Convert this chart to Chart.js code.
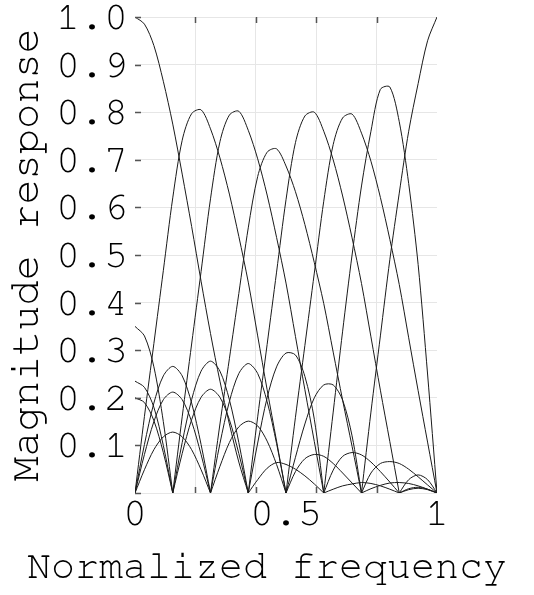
<!DOCTYPE html>
<html>
<head>
<meta charset="utf-8">
<script src="https://cdn.jsdelivr.net/npm/chart.js@4.4.1/dist/chart.umd.min.js"></script>
<style>
  html, body { margin: 0; padding: 0; background: #fff; }
  #wrap { width: 534px; height: 595px; }
</style>
</head>
<body>
<div id="wrap"><canvas id="grafico"></canvas></div>
<script>
// Frequency grid (normalized, 1 = Nyquist)
const freq = [0, 0.03125, 0.0625, 0.09375, 0.125, 0.15625, 0.1875, 0.21875, 0.25,
  0.28125, 0.3125, 0.34375, 0.375, 0.40625, 0.4375, 0.46875, 0.5,
  0.53125, 0.5625, 0.59375, 0.625, 0.65625, 0.6875, 0.71875, 0.75,
  0.78125, 0.8125, 0.84375, 0.875, 0.90625, 0.9375, 0.96875, 1];

// Magnitude response of each band
const band1 = [1.0, 0.985, 0.94, 0.865, 0.775, 0.67, 0.56, 0.445, 0.335, 0.235, 0.145, 0.065, 0,
  0.028, 0.052, 0.064, 0.06, 0.05, 0.036, 0.019, 0,
  0.008, 0.015, 0.019, 0.022, 0.02, 0.015, 0.008, 0,
  0.007, 0.01, 0.007, 0];
const band2 = [0, 0.161, 0.314, 0.467, 0.62, 0.741, 0.797, 0.805, 0.765, 0.704, 0.628, 0.539, 0.443, 0.33, 0.217, 0.109, 0,
  0.045, 0.072, 0.081, 0.077, 0.062, 0.042, 0.021, 0,
  0.009, 0.016, 0.021, 0.022, 0.02, 0.015, 0.008, 0];
const band3 = [0.35, 0.33, 0.265, 0.15, 0,
  0.16, 0.313, 0.465, 0.618, 0.738, 0.794, 0.802, 0.762, 0.702, 0.626, 0.537, 0.441, 0.329, 0.217, 0.108, 0,
  0.048, 0.077, 0.085, 0.08, 0.065, 0.045, 0.023, 0,
  0.009, 0.012, 0.008, 0];
const band4 = [0, 0.102, 0.189, 0.246, 0.266, 0.246, 0.189, 0.102, 0,
  0.145, 0.282, 0.419, 0.557, 0.665, 0.716, 0.723, 0.687, 0.633, 0.564, 0.484, 0.398, 0.296, 0.195, 0.098, 0,
  0.042, 0.062, 0.066, 0.062, 0.05, 0.034, 0.017, 0];
const band5 = [0.235, 0.222, 0.18, 0.1, 0,
  0.106, 0.196, 0.256, 0.277, 0.256, 0.196, 0.106, 0,
  0.16, 0.312, 0.464, 0.616, 0.736, 0.792, 0.8, 0.76, 0.7, 0.624, 0.536, 0.44, 0.328, 0.216, 0.108, 0,
  0.028, 0.038, 0.028, 0];
const band6 = [0, 0.081, 0.15, 0.196, 0.212, 0.196, 0.15, 0.081, 0,
  0.104, 0.192, 0.251, 0.272, 0.251, 0.192, 0.104, 0,
  0.159, 0.31, 0.462, 0.613, 0.732, 0.788, 0.796, 0.756, 0.697, 0.621, 0.533, 0.438, 0.326, 0.215, 0.107, 0];
const band7 = [0.2, 0.19, 0.152, 0.085, 0,
  0.083, 0.154, 0.201, 0.218, 0.201, 0.154, 0.083, 0,
  0.105, 0.2, 0.265, 0.294, 0.29, 0.245, 0.155, 0,
  0.17, 0.34, 0.5, 0.645, 0.76, 0.848, 0.853, 0.78, 0.65, 0.48, 0.25, 0];
const band8 = [0, 0.049, 0.091, 0.118, 0.128, 0.118, 0.091, 0.049, 0,
  0.056, 0.106, 0.139, 0.151, 0.141, 0.109, 0.06, 0,
  0.075, 0.145, 0.2, 0.227, 0.227, 0.195, 0.12, 0,
  0.17, 0.33, 0.49, 0.63, 0.76, 0.86, 0.95, 1.0];

// Axis ticks
const xTickValues = [0, 0.2, 0.4, 0.5, 0.6, 0.8, 1];
const xTickLabels = { 0: '0', 0.5: '0.5', 1: '1' };
const xGridValues = [0.2, 0.4, 0.6, 0.8];

const fonteMono = "'Nimbus Mono PS', 'Nimbus Mono L', FreeMono, 'Courier New', Courier, 'Liberation Mono', monospace";
const gridColor = '#e6e6e6';

// Build {x, y} points; break the line at interior zeros so lobes meet in a cusp
function toPoints(values) {
  const pts = [];
  values.forEach((v, i) => {
    pts.push({ x: freq[i], y: v });
    if (v === 0 && i > 0 && i < values.length - 1) {
      pts.push({ x: freq[i], y: null });
      pts.push({ x: freq[i], y: 0 });
    }
  });
  return pts;
}

// Short tick marks drawn inside the plot area
const innerTicks = {
  id: 'innerTicks',
  afterDatasetsDraw(chart) {
    const { ctx, chartArea, scales } = chart;
    ctx.save();
    ctx.strokeStyle = '#555';
    ctx.lineWidth = 1.5;
    ctx.beginPath();
    scales.y.ticks.forEach(t => {
      const y = Math.round(scales.y.getPixelForValue(t.value)) + 0.5;
      ctx.moveTo(chartArea.left, y);
      ctx.lineTo(chartArea.left + 6, y);
    });
    xGridValues.forEach(v => {
      const x = Math.round(scales.x.getPixelForValue(v)) + 0.5;
      ctx.moveTo(x, chartArea.top);
      ctx.lineTo(x, chartArea.top + 6);
      ctx.moveTo(x, chartArea.bottom);
      ctx.lineTo(x, chartArea.bottom - 6);
    });
    ctx.stroke();
    ctx.restore();
  }
};

const bands = [band1, band2, band3, band4, band5, band6, band7, band8];

new Chart(document.getElementById('grafico'), {
  type: 'line',
  data: {
    datasets: bands.map((b, i) => ({
      label: 'Band ' + (i + 1),
      data: toPoints(b),
      borderColor: '#1a1a1a',
      borderWidth: 1,
      pointRadius: 0,
      tension: 0.3,
      spanGaps: false
    }))
  },
  options: {
    responsive: true,
    maintainAspectRatio: false,
    animation: false,
    layout: { padding: { left: 0, right: 0, top: 16, bottom: 0 } },
    plugins: {
      legend: { display: false },
      tooltip: { enabled: false },
      title: {
        display: true,
        position: 'bottom',
        text: 'Normalized frequency',
        color: '#000',
        font: { family: fonteMono, size: 40, weight: 'normal', lineHeight: 1.2 },
        padding: { top: 0, bottom: 5 }
      }
    },
    scales: {
      x: {
        type: 'linear',
        min: 0,
        max: 1,
        afterBuildTicks: scale => {
          scale.ticks = xTickValues.map(v => ({ value: v }));
        },
        afterFit: scale => { scale.height = 49; },
        grid: {
          color: ctx => (ctx.tick && xGridValues.includes(ctx.tick.value)) ? gridColor : 'rgba(0,0,0,0)',
          drawTicks: false
        },
        border: { display: false },
        ticks: {
          autoSkip: false,
          maxRotation: 0,
          minRotation: 0,
          padding: 0,
          color: '#000',
          font: { family: fonteMono, size: 40, lineHeight: 1 },
          callback: v => xTickLabels[v] || ''
        }
      },
      y: {
        min: 0,
        max: 1,
        afterFit: scale => { scale.width = 135; },
        grid: { color: gridColor, drawTicks: false },
        border: { display: false },
        title: {
          display: true,
          text: 'Magnitude response',
          color: '#000',
          font: { family: fonteMono, size: 42, lineHeight: 1.2 },
          padding: 0
        },
        ticks: {
          stepSize: 0.1,
          padding: 7,
          color: '#000',
          font: { family: fonteMono, size: 40, lineHeight: 0.5 },
          callback: v => v < 0.05 ? '' : v.toFixed(1)
        }
      },
      // empty right-hand axis that only reserves the margin
      yRight: {
        position: 'right',
        min: 0,
        max: 1,
        afterFit: scale => { scale.width = 97; },
        grid: { display: false, drawTicks: false },
        border: { display: false },
        ticks: { display: false }
      }
    }
  },
  plugins: [innerTicks]
});
</script>
</body>
</html>
